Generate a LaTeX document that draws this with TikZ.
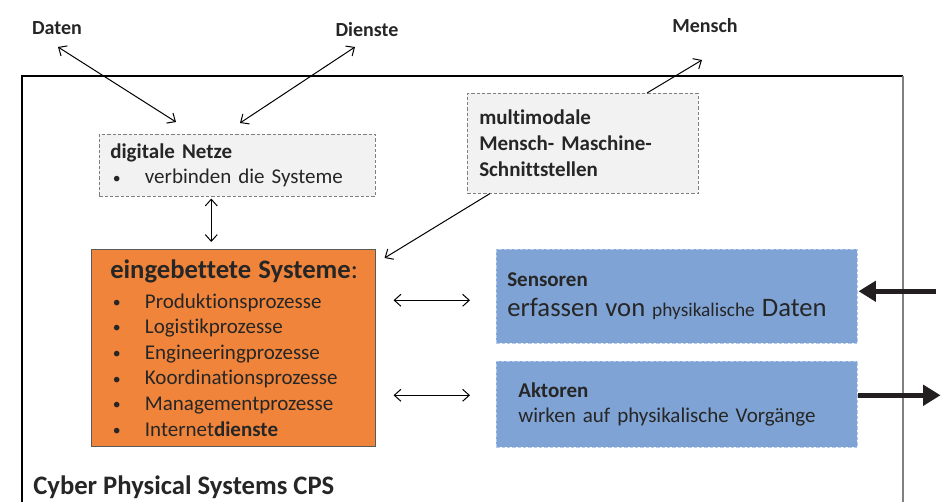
\documentclass[tikz,border=0pt]{standalone}
\usepackage{fontspec}
\setmainfont{Carlito}[Ligatures={NoCommon,NoContextual}]
\usetikzlibrary{positioning, arrows.meta}
\definecolor{netzgray}{HTML}{F2F2F2}
\definecolor{randgray}{HTML}{7F7F7F}
\definecolor{cpsorange}{HTML}{F0843A}
\definecolor{orangerand}{HTML}{595959}
\definecolor{cpsblue}{HTML}{7FA3D4}
\definecolor{bluerand}{HTML}{B4CBEC}
\definecolor{textgray}{HTML}{262626}
\definecolor{dickpfeil}{HTML}{231F20}
\tikzset{
  label/.style={font=\fontsize{15pt}{18pt}\selectfont\bfseries, text=textgray, inner sep=0pt},
  netzbox/.style={rectangle, draw=randgray, dash pattern=on 2.5pt off 1.5pt, fill=netzgray, align=left, anchor=north west, text=textgray},
  orangebox/.style={rectangle, draw=orangerand, fill=cpsorange, align=left, anchor=north west, text=textgray},
  bluebox/.style={rectangle, draw=bluerand, dash pattern=on 2.5pt off 1.5pt, fill=cpsblue, align=left, anchor=north west, text=textgray},
  biarrow/.style={{Straight Barb[length=5pt,width=9pt]}-{Straight Barb[length=5pt,width=9pt]}, line width=0.75pt},
  arrow/.style={-{Straight Barb[length=5pt,width=9pt]}, line width=0.75pt},
  thickarrow/.style={-{Triangle[length=13pt,width=15pt]}, line width=3.6pt, draw=dickpfeil, fill=dickpfeil},
}
\newcommand{\bul}{\makebox[26pt][l]{\hspace{2pt}\raisebox{0.5pt}{\scalebox{0.75}{\textbullet}}}}

\begin{document}
\begin{tikzpicture}[x=0.75pt, y=-0.75pt, font=\fontsize{15.75pt}{19.2pt}\selectfont]
  \useasboundingbox (0,0) rectangle (944,502);

  % Rahmen CPS
  \draw[line width=0.9pt] (22,502) -- (22,76) -- (903,76);
  \draw[line width=0.9pt, draw=gray] (903,76) -- (903,502);
  \node[anchor=west, font=\fontsize{20pt}{24pt}\selectfont\bfseries, text=textgray, inner sep=0pt] (cps) at (33,487) {Cyber Physical Systems CPS};

  % Beschriftungen oben
  \node[label] (daten) at (57,28) {Daten};
  \node[label] (dienste) at (367,30) {Dienste};
  \node[label] (mensch) at (705,26) {Mensch};

  % Kaesten
  \node[netzbox, minimum width=207pt, minimum height=46.5pt, inner xsep=8.25pt, text width=190.5pt] (netze) at (99,134)
    {\textbf{digitale Netze}\\ \bul verbinden die Systeme};
  \node[netzbox, minimum width=173.25pt, minimum height=75pt, inner xsep=9pt, text width=155.25pt, font=\fontsize{15.75pt}{19.5pt}\selectfont\bfseries] (mmi) at (467,93)
    {multimodale\\Mensch- Maschine-\\Schnittstellen};
  \node[orangebox, minimum width=213pt, minimum height=147.75pt, inner xsep=14.25pt, text width=184.5pt] (eingebettet) at (91,249)
    {\mbox{\fontsize{20pt}{24pt}\selectfont\textbf{eingebettete Systeme}:}\\[3.3pt]
     \bul Produktionsprozesse\\
     \bul Logistikprozesse\\
     \bul Engineeringprozesse\\
     \bul Koordinationsprozesse\\
     \bul Managementprozesse\\
     \bul Internet\textbf{dienste}};
  \node[bluebox, minimum width=270.75pt, minimum height=70.5pt, inner xsep=8.25pt, text width=254.25pt] (sensoren) at (496,249)
    {\textbf{Sensoren}\\[3pt]
     {\fontsize{20pt}{24pt}\selectfont erfassen von {\fontsize{14.5pt}{17pt}\selectfont physikalische} Daten}};
  \node[bluebox, minimum width=270.75pt, minimum height=64.5pt, inner xsep=16.5pt, text width=237.75pt] (aktoren) at (496,361)
    {\textbf{Aktoren}\\wirken auf physikalische Vorgänge};

  % Pfeile
  \draw[biarrow] ([shift={(1,19)}]daten.center) -- ([shift={(77,-12)}]netze.north west);
  \draw[biarrow] ([shift={(-12,17)}]dienste.center) -- ([shift={(141,-11)}]netze.north west);
  \draw[biarrow] ([shift={(-26,2)}]netze.south) -- ([shift={(-22,-7)}]eingebettet.north);
  \draw[arrow] ([xshift=17.25pt]mmi.south west) -- ([shift={(9,9)}]eingebettet.north east);
  \draw[arrow] ([xshift=135pt]mmi.north west) -- ([shift={(-3,34)}]mensch.center);
  \draw[biarrow, shorten <=13.5pt, shorten >=19.5pt] ([yshift=-3pt]eingebettet.east |- sensoren.west) -- ([yshift=-3pt]sensoren.west);
  \draw[biarrow, shorten <=13.5pt, shorten >=19.5pt] ([yshift=6.75pt]eingebettet.east |- aktoren.west) -- ([yshift=6.75pt]aktoren.west);
  \draw[thickarrow] ([shift={(78,-5)}]sensoren.east) -- ([shift={(1,-5)}]sensoren.east);
  \draw[thickarrow] ([yshift=6.75pt]aktoren.east) -- ([shift={(83,-9)}]aktoren.east);
\end{tikzpicture}
\end{document}
